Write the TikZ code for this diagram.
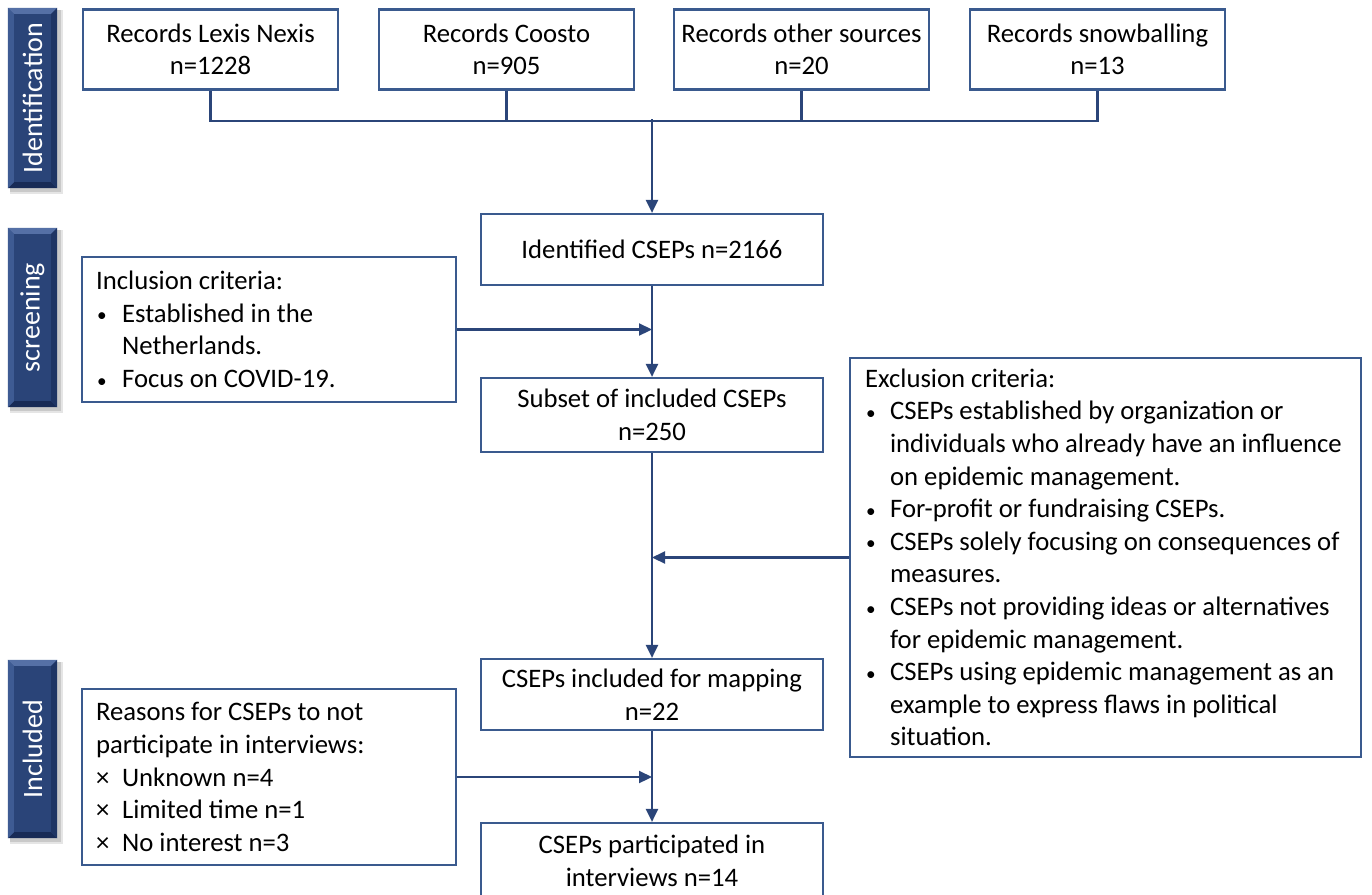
\documentclass[tikz,border=0pt]{standalone}
\usepackage{fontspec}
\setmainfont{Carlito}
\usetikzlibrary{arrows.meta,calc}
\definecolor{linec}{HTML}{2B4579}
\definecolor{boxc}{HTML}{3A5A8E}
\definecolor{bface}{HTML}{2A4478}
\definecolor{btop}{HTML}{5570A6}
\definecolor{bleft}{HTML}{3E5B93}
\definecolor{bright}{HTML}{1F3564}
\definecolor{bbottom}{HTML}{182B56}
\newcommand\bul[1]{\makebox[#1][l]{\hspace*{1pt}\raisebox{0.5pt}{\scalebox{0.72}{•}}}}
\newcommand\crs{\makebox[26pt][l]{×}}
\newcommand\drawbanner[6]{%
  \fill[black,opacity=0.10] (#2+2,#3+2) rectangle (#4+6,#5+6);
  \fill[black,opacity=0.12] (#2+2,#3+2) rectangle (#4+3.5,#5+3.5);
  \node[fill=bface, inner sep=0pt, minimum width={#4-#2}, minimum height={#5-#3}] (#1) at ({(#2+#4)/2},{(#3+#5)/2}) {};
  \fill[btop] (#1.north west) -- (#1.north east) -- ([shift={(-6,6)}]#1.north east) -- ([shift={(6,6)}]#1.north west) -- cycle;
  \fill[bbottom] (#1.south west) -- (#1.south east) -- ([shift={(-6,-6)}]#1.south east) -- ([shift={(6,-6)}]#1.south west) -- cycle;
  \fill[bleft] (#1.north west) -- ([shift={(6,6)}]#1.north west) -- ([shift={(6,-6)}]#1.south west) -- (#1.south west) -- cycle;
  \fill[bright] (#1.north east) -- ([shift={(-6,6)}]#1.north east) -- ([shift={(-6,-6)}]#1.south east) -- (#1.south east) -- cycle;
  \node[rotate=90, text=white, font=\fontsize{28}{32}\selectfont, inner sep=0pt] at (#1.center) {#6};
}
\tikzset{
  box/.style={draw=boxc, line width=2.2pt, fill=white, inner sep=0pt},
  txt/.style={font=\fontsize{26.7}{32.6}\selectfont, inner sep=0pt, align=left, text=black},
  ctxt/.style={font=\fontsize{26.7}{32.6}\selectfont, align=center, text=black},
  conn/.style={draw=linec, line width=2.2pt},
  arr/.style={conn, -{Triangle[length=13pt,width=12pt]}},
}
\begin{document}
\begin{tikzpicture}[x=1pt,y=-1pt]
\useasboundingbox (0,0) rectangle (1372,894);
\fill[white] (0,0) rectangle (1372,894);

% banners
\drawbanner{bid}{8}{8}{57}{188}{Identification}
\drawbanner{bsc}{8}{228}{57}{407}{screening}
\drawbanner{bin}{8}{660}{57}{838}{Included}

% top boxes
\node[box, ctxt, minimum width=255pt, minimum height=80pt] (lexis) at (210.5,49.5) {Records Lexis Nexis\\n=1228};
\node[box, ctxt, minimum width=255pt, minimum height=80pt] (coosto) at (506.5,49.5) {Records Coosto\\n=905};
\node[box, ctxt, minimum width=255pt, minimum height=80pt] (other) at (801.5,49.5) {Records other sources\\n=20};
\node[box, ctxt, minimum width=255pt, minimum height=80pt] (snow) at (1097.5,49.5) {Records snowballing\\n=13};

% central boxes
\node[box, ctxt, minimum width=342pt, minimum height=71pt] (ident) at (652,249.5) {Identified CSEPs n=2166};
\node[box, ctxt, minimum width=342pt, minimum height=74pt] (subset) at (652,415) {Subset of included CSEPs\\n=250};
\node[box, ctxt, minimum width=342pt, minimum height=71pt] (mapping) at (652,694.5) {CSEPs included for mapping\\n=22};
\node[box, ctxt, minimum width=342pt, minimum height=76pt] (part) at (652,861) {CSEPs participated in\\interviews n=14};

% side boxes
\node[box, minimum width=374pt, minimum height=145pt] (incl) at (269,329.5) {};
\node[txt, anchor=west] (incltxt) at ([xshift=15pt]incl.west) {Inclusion criteria:\\
\bul{26pt}Established in the\\
\hspace*{26pt}Netherlands.\\
\bul{26pt}Focus on COVID-19.};

\node[box, minimum width=511pt, minimum height=399pt] (excl) at (1105.5,557.5) {};
\node[txt, anchor=west] (excltxt) at ([xshift=16pt]excl.west) {Exclusion criteria:\\
\bul{25pt}CSEPs established by organization or\\
\hspace*{25pt}individuals who already have an influence\\
\hspace*{25pt}on epidemic management.\\
\bul{25pt}For-profit or fundraising CSEPs.\\
\bul{25pt}CSEPs solely focusing on consequences of\\
\hspace*{25pt}measures.\\
\bul{25pt}CSEPs not providing ideas or alternatives\\
\hspace*{25pt}for epidemic management.\\
\bul{25pt}CSEPs using epidemic management as an\\
\hspace*{25pt}example to express flaws in political\\
\hspace*{25pt}situation.};

\node[box, minimum width=374pt, minimum height=176pt] (reasons) at (269,777) {};
\node[txt, anchor=west] (reasonstxt) at ([xshift=15pt]reasons.west) {Reasons for CSEPs to not\\
participate in interviews:\\
\crs Unknown n=4\\
\crs Limited time n=1\\
\crs No interest n=3};

% connectors
\draw[conn] (lexis.south) -- ++(0,30) -| (snow.south);
\draw[conn] (coosto.south) -- ++(0,30);
\draw[conn] (other.south) -- ++(0,30);
\coordinate (busmid) at (652,119);
\draw[arr] (busmid) -- (ident.north);
\draw[arr] (ident.south) -- (subset.north);
\draw[arr] (incl.east) -- (incl.east -| ident.south);
\draw[arr] (subset.south) -- (mapping.north);
\draw[arr] (excl.west) -- (excl.west -| subset.south);
\draw[arr] (mapping.south) -- (part.north);
\draw[arr] (reasons.east) -- (reasons.east -| mapping.south);
\end{tikzpicture}
\end{document}
